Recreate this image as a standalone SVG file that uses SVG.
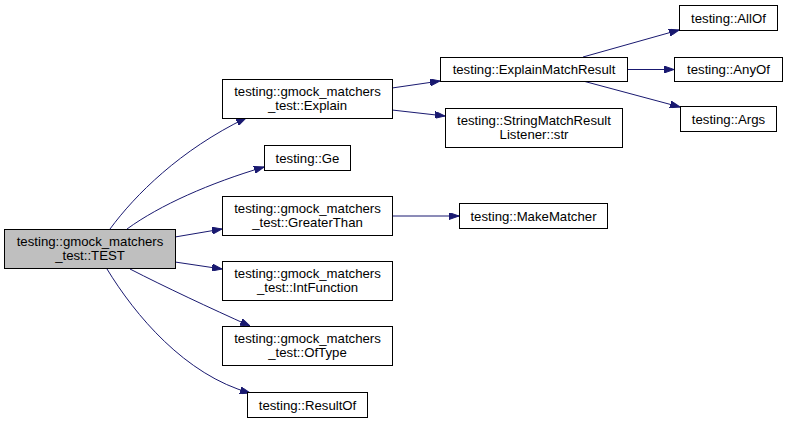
<svg xmlns="http://www.w3.org/2000/svg" width="787" height="424" viewBox="0 0 787 424">
<defs>
<marker id="ah" viewBox="0 0 10 7" refX="10" refY="3.5" markerWidth="10" markerHeight="7" markerUnits="userSpaceOnUse" orient="auto">
<polygon points="0,0 10,3.5 0,7" fill="#191970" stroke="#191970" stroke-width="1"/>
</marker>
</defs>
<style>
rect.n{fill:#ffffff;stroke:#000000;stroke-width:1}
rect.root{fill:#bfbfbf;stroke:#000000;stroke-width:1}
text{font-family:"Liberation Sans",Arial,sans-serif;font-size:13.2px;fill:#000000;text-anchor:middle}
path.e{fill:none;stroke:#191970;stroke-width:1;marker-end:url(#ah)}
</style>
<rect width="787" height="424" fill="#ffffff"/>
<g id="connectors">
<path class="e" d="M110,229 C135,195 180,150 246,118"/>
<path class="e" d="M127,229 C160,205 210,183 264,167"/>
<path class="e" d="M175,237 L222,229"/>
<path class="e" d="M175,262 L222,269"/>
<path class="e" d="M130,269 C165,287 210,308 250,326"/>
<path class="e" d="M107,269 C135,315 185,375 250,393"/>
<path class="e" d="M392,88 L440,81"/>
<path class="e" d="M392,110 L445,116"/>
<path class="e" d="M392,216 L459,216"/>
<path class="e" d="M583,57 L679,30"/>
<path class="e" d="M627,69.5 L674,69.5"/>
<path class="e" d="M583,81 L680,107"/>
</g>
<g id="node-test">
<rect class="root" x="4.5" y="229.5" width="171" height="39"/>
<text x="90" y="246">testing::gmock_matchers</text>
<text x="90" y="259.5">_test::TEST</text>
</g>
<g id="node-explain">
<rect class="n" x="222.5" y="79.5" width="170" height="39"/>
<text x="307.5" y="96">testing::gmock_matchers</text>
<text x="307.5" y="109.5">_test::Explain</text>
</g>
<g id="node-ge">
<rect class="n" x="264.5" y="145.5" width="86" height="25"/>
<text x="307.5" y="162.5">testing::Ge</text>
</g>
<g id="node-greaterthan">
<rect class="n" x="222.5" y="196.5" width="170" height="39"/>
<text x="307.5" y="213">testing::gmock_matchers</text>
<text x="307.5" y="226.5">_test::GreaterThan</text>
</g>
<g id="node-intfunction">
<rect class="n" x="222.5" y="261.5" width="170" height="39"/>
<text x="307.5" y="278">testing::gmock_matchers</text>
<text x="307.5" y="291.5">_test::IntFunction</text>
</g>
<g id="node-oftype">
<rect class="n" x="222.5" y="326.5" width="170" height="39"/>
<text x="307.5" y="343">testing::gmock_matchers</text>
<text x="307.5" y="356.5">_test::OfType</text>
</g>
<g id="node-resultof">
<rect class="n" x="247.5" y="392.5" width="120" height="25"/>
<text x="307.5" y="409.5">testing::ResultOf</text>
</g>
<g id="node-explainmatchresult">
<rect class="n" x="440.5" y="57.5" width="187" height="24"/>
<text x="534" y="74">testing::ExplainMatchResult</text>
</g>
<g id="node-stringmatchresult">
<rect class="n" x="445.5" y="108.5" width="177" height="39"/>
<text x="534" y="125">testing::StringMatchResult</text>
<text x="534" y="138.5">Listener::str</text>
</g>
<g id="node-makematcher">
<rect class="n" x="459.5" y="203.5" width="148" height="25"/>
<text x="533.5" y="220.5">testing::MakeMatcher</text>
</g>
<g id="node-allof">
<rect class="n" x="679.5" y="5.5" width="98" height="25"/>
<text x="728.5" y="22.5">testing::AllOf</text>
</g>
<g id="node-anyof">
<rect class="n" x="674.5" y="57.5" width="108" height="24"/>
<text x="728.5" y="74">testing::AnyOf</text>
</g>
<g id="node-args">
<rect class="n" x="680.5" y="106.5" width="96" height="25"/>
<text x="728.5" y="123.5">testing::Args</text>
</g>
</svg>
